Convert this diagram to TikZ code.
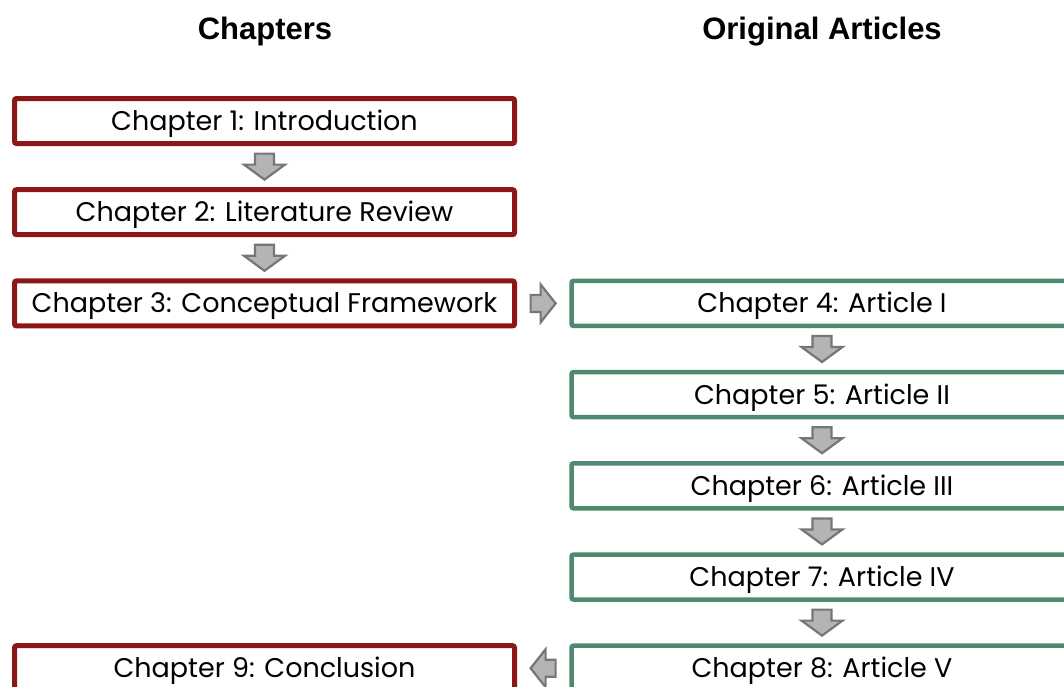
\documentclass[tikz,border=0pt]{standalone}
\usepackage{fontspec}
\setmainfont{Poppins}
\newfontfamily\headfont{Liberation Sans}
\usetikzlibrary{calc}
\definecolor{chapred}{HTML}{8C1717}
\definecolor{artgreen}{HTML}{4F8A6F}
\definecolor{arrowfill}{HTML}{B4B4B4}
\definecolor{arrowedge}{HTML}{767676}
\tikzset{
  chapbox/.style={draw=chapred, line width=5pt, rounded corners=2pt,
    minimum width=500pt, minimum height=45pt, inner sep=0pt,
    text height=19pt, text depth=0pt,
    font=\fontsize{27}{30}\selectfont},
  artbox/.style={chapbox, draw=artgreen, line width=4.5pt, minimum width=501pt},
  heading/.style={anchor=base, font=\headfont\bfseries\fontsize{31}{36}\selectfont},
  blockarrow/.pic={
    \draw[fill=arrowfill, draw=arrowedge, line width=2.2pt, line join=miter]
      (-9.5,-13) -- (9.5,-13) -- (9.5,-2) -- (20.5,-2) -- (0,13)
      -- (-20.5,-2) -- (-9.5,-2) -- cycle;},
  sidearrow/.pic={
    \draw[fill=arrowfill, draw=arrowedge, line width=2.2pt, line join=miter]
      (-8.5,-12.5) -- (8.5,-12.5) -- (8.5,-2.5) -- (19,-2.5) -- (0,12.5)
      -- (-19,-2.5) -- (-8.5,-2.5) -- cycle;}
}
\begin{document}
\begin{tikzpicture}[x=1pt, y=-1pt]
  \useasboundingbox (0,0) rectangle (1064,686);
  \clip (0,0) rectangle (1064,686);
  % column headings
  \node[heading] (hchap) at (265,39) {Chapters};
  \node[heading] (hart)  at (822,39) {Original Articles};
  % chapter boxes (left column)
  \node[chapbox] (c1) at (264.5,121)   {Chapter 1: Introduction};
  \node[chapbox] (c2) at (264.5,212.2) {Chapter 2: Literature Review};
  \node[chapbox] (c3) at (264.5,303.4) {Chapter 3: Conceptual Framework};
  \node[chapbox] (c9) at (264.5,668.2) {Chapter 9: Conclusion};
  % article boxes (right column)
  \node[artbox] (a4) at (822,303.4) {Chapter 4: Article I};
  \node[artbox] (a5) at (822,394.6) {Chapter 5: Article II};
  \node[artbox] (a6) at (822,485.8) {Chapter 6: Article III};
  \node[artbox] (a7) at (822,577)   {Chapter 7: Article IV};
  \node[artbox] (a8) at (822,668.2) {Chapter 8: Article V};
  % block arrows between boxes
  \pic at ($(c1.south)!0.5!(c2.north)$) {blockarrow};
  \pic at ($(c2.south)!0.5!(c3.north)$) {blockarrow};
  \pic[rotate=90] at ($(c3.east)!0.5!(a4.west)$) {sidearrow};
  \pic at ($(a4.south)!0.5!(a5.north)$) {blockarrow};
  \pic at ($(a5.south)!0.5!(a6.north)$) {blockarrow};
  \pic at ($(a6.south)!0.5!(a7.north)$) {blockarrow};
  \pic at ($(a7.south)!0.5!(a8.north)$) {blockarrow};
  \pic[rotate=-90] at ($(a8.west)!0.5!(c9.east)$) {sidearrow};
\end{tikzpicture}
\end{document}
